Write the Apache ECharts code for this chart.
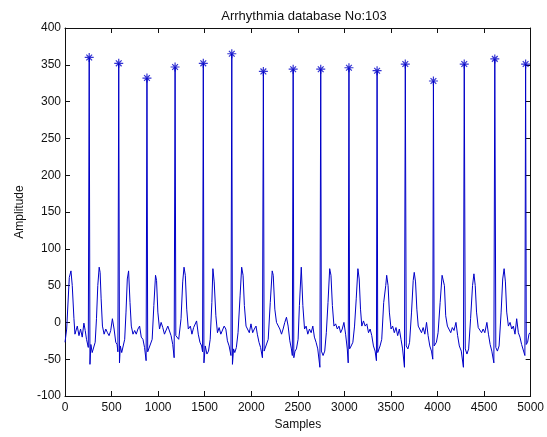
<!DOCTYPE html>
<html>
<head>
<meta charset="utf-8">
<script src="https://cdn.jsdelivr.net/npm/echarts@6/dist/echarts.min.js"></script>
<style>html,body{margin:0;padding:0;background:#fff}#c{width:547px;height:437px}</style>
</head>
<body>
<div id="c"></div>
<script>
// ECG samples (x) and amplitude values (y)
var samples = [
0,18,46,64,78,96,107,132,150,167,185,203,217,231,250,260,268,278,292,310,324,338,352,367,377,388,402,420,438,456,473,491,509,527,545,559,
568,577,585,594,609,623,641,655,669,683,698,712,730,748,765,783,801,819,837,854,
871,880,888,908,936,954,972,983,997,1015,1032,1050,1068,1086,1104,1121,1139,1157,
1172,1182,1190,1203,1221,1246,1264,1278,1292,1307,1324,1346,1363,1381,1399,1413,1431,1449,1467,
1477,1485,1492,1506,1524,1541,1559,1577,1588,1602,1620,1637,1655,1673,1691,1709,1727,1744,1762,
1782,1791,1798,1810,1823,1840,1858,1880,1897,1912,1926,1944,1962,1979,1997,2015,2033,2051,2065,2083,2100,
2120,2130,2138,2154,2182,2204,2225,2236,2253,2271,2289,2307,2325,2342,2360,2378,2396,2414,2431,
2441,2450,2457,2470,2485,2503,2517,2537,2554,2572,2589,2607,2625,2643,2661,2678,2696,2714,
2737,2746,2753,2771,2789,2806,2824,2842,2856,2871,2888,2906,2924,2942,2960,2977,2995,3013,3031,
3041,3049,3056,3073,3091,3109,3127,3145,3159,3173,3187,3205,3223,3241,3259,3276,3294,3312,3330,
3344,3351,3358,3383,3401,3422,3444,3454,3469,3483,3501,3518,3536,3554,3572,3590,3608,3625,
3645,3654,3664,3682,3700,3721,3739,3750,3764,3778,3793,3810,3828,3846,3864,3882,3899,3917,3935,
3949,3956,3964,3988,4006,4028,4049,4060,4074,4088,4106,4124,4142,4159,4177,4198,4216,4234,4255,
4278,4287,4298,4316,4334,4355,4376,4391,4405,4419,4437,4455,4473,4490,4508,4530,4547,4565,4583,
4605,4615,4626,4643,4661,4683,4700,4715,4729,4743,4761,4779,4797,4814,4832,4850,4868,4885,4903,4921,
4938,4946,4953,4967,4982,4992,5000
];
var amplitude = [
-27,-9,61,70,50,5,-16,-5,-18,-9,-20,-1,-11,-23,-34,360,-57,-30,-41,-43,-27,5,50,75,68,32,-5,-16,-9,-14,-18,-11,5,-9,-27,-30,
-40,352,-55,-32,-41,-39,-23,14,59,70,27,-5,-16,-11,-16,-9,-5,-20,-23,-34,
-52,332,-40,-39,-23,23,64,57,14,-9,0,-7,-16,-18,-5,-5,-18,-30,
-48,347,-18,-16,-23,5,55,75,64,18,-9,-5,-16,-7,-9,2,-16,-27,-32,
-40,352,-55,-32,-43,-39,-23,27,73,55,9,-14,-7,-16,-14,-5,-9,-25,-32,
-45,365,-57,-36,-41,-34,-14,36,75,64,23,-5,-7,-14,-2,-14,-9,-5,-16,-27,-34,
-48,341,-39,-41,-23,27,70,64,18,0,0,-9,-16,-9,0,7,-5,-25,-36,
-45,344,-48,-39,-36,-23,23,75,23,-9,-5,-16,-9,-14,-5,-20,-27,-36,
-61,344,-39,-45,-39,-14,27,73,64,23,-5,-2,-9,-5,-14,-9,0,-16,-36,
-55,346,-36,-32,-27,-5,32,73,59,18,-5,2,-5,-2,-14,-9,-18,-32,-39,
-52,342,-41,-32,-23,27,50,64,50,14,-9,-5,-14,-7,-18,-9,-23,-36,
-61,351,-32,-36,-27,14,57,68,55,18,-5,-5,-14,-7,-16,0,-18,-32,-39,
-50,328,-32,-27,-14,27,64,66,50,9,-5,-5,-14,-7,-11,0,-18,-32,-39,
-61,351,-36,-43,-36,5,50,66,50,14,-7,-5,-14,-9,-14,0,-16,-30,-39,
-55,358,-34,-39,-32,14,59,73,55,14,-5,0,-9,-5,-16,5,-14,-20,-30,-32,
-45,351,-30,-27,-16,-14,-16
];
// detected R peaks (stars)
var peakSamples = [260,577,880,1182,1485,1791,2130,2450,2746,3049,3351,3654,3956,4287,4615,4946];
var peakValues  = [360,352,332,347,352,365,341,344,344,346,342,351,328,351,358,351];
// axis ticks
var xTicks = [0,500,1000,1500,2000,2500,3000,3500,4000,4500,5000];
var yTicks = [-100,-50,0,50,100,150,200,250,300,350,400];

var ecg = samples.map(function(s,i){return [s, amplitude[i]];});
var peaks = peakSamples.map(function(s,i){return [s, peakValues[i]];});

var chart = echarts.init(document.getElementById('c'), null, {renderer:'canvas'});
var font = 'Liberation Sans, Arial, sans-serif';
var axisCol = '#111';
function plain(v){ return String(v); }
function xAx(pos, labels){
  return {type:'value', position:pos, min:xTicks[0], max:xTicks[xTicks.length-1], interval:xTicks[1]-xTicks[0],
    axisLine:{show:true, onZero:false, lineStyle:{color:axisCol, width:1}},
    axisTick:{show:true, inside:true, length:5, lineStyle:{color:axisCol}},
    axisLabel:{show:labels, color:'#111', fontFamily:font, fontSize:12, margin:6, formatter:plain},
    splitLine:{show:false},
    name: labels ? 'Samples' : '', nameLocation:'middle', nameGap:22,
    nameTextStyle:{color:'#111', fontFamily:font, fontSize:12}};
}
function yAx(pos, labels){
  return {type:'value', position:pos, min:yTicks[0], max:yTicks[yTicks.length-1], interval:yTicks[1]-yTicks[0],
    axisLine:{show:true, onZero:false, lineStyle:{color:axisCol, width:1}},
    axisTick:{show:true, inside:true, length:5, lineStyle:{color:axisCol}},
    axisLabel:{show:labels, color:'#111', fontFamily:font, fontSize:12, margin:4, formatter:plain},
    splitLine:{show:false},
    name: labels ? 'Amplitude' : '', nameLocation:'middle', nameGap:36,
    nameTextStyle:{color:'#111', fontFamily:font, fontSize:12}};
}
chart.setOption({
  animation:false,
  backgroundColor:'#fff',
  title:{text:'Arrhythmia database No:103', left:299, top:5, textAlign:'center',
    textStyle:{color:'#111', fontFamily:font, fontSize:13, fontWeight:'normal'}},
  grid:{left:65, right:14, top:28, bottom:41, containLabel:false},
  xAxis:[xAx('bottom', true), xAx('top', false)],
  yAxis:[yAx('left', true), yAx('right', false)],
  series:[
    {type:'line', data:ecg, showSymbol:false, symbol:'none', lineStyle:{color:'#0000c8', width:1}, z:2},
    {type:'scatter', data:peaks, symbol:'path://M0,5L10,5M5,0L5,10M1.8,1.8L8.2,8.2M8.2,1.8L1.8,8.2', symbolSize:9,
      itemStyle:{color:'rgba(0,0,0,0)', borderColor:'#0000c8', borderWidth:1.2}, z:3}
  ]
});
</script>
</body>
</html>
